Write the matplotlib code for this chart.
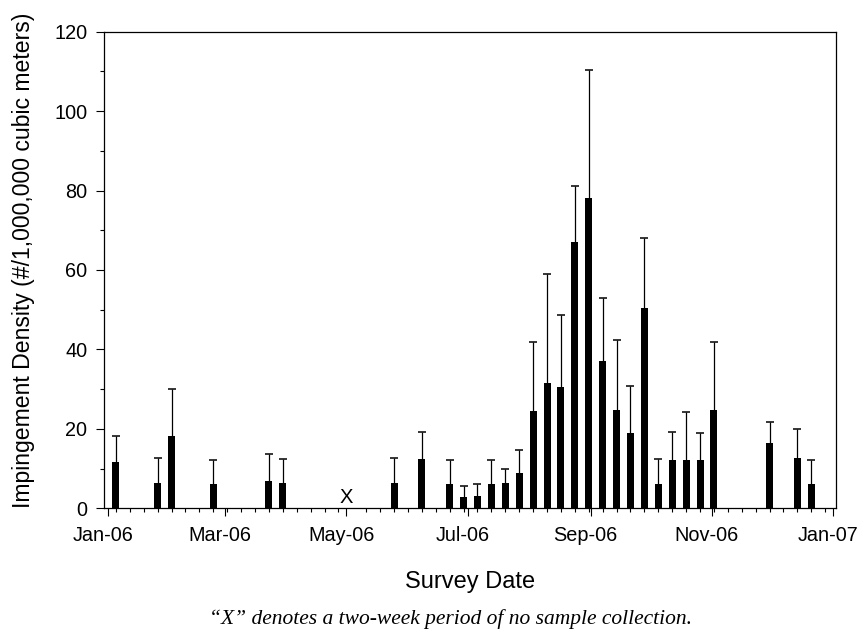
import datetime as dt
import matplotlib
matplotlib.use('Agg')
import matplotlib.pyplot as plt
import matplotlib.dates as mdates
import matplotlib.transforms as mtransforms
import pandas as pd

plt.rcParams['font.family'] = ['Liberation Sans', 'DejaVu Sans']

# survey dates with non-zero density
dates = ['2006-01-05', '2006-01-26', '2006-02-02', '2006-02-23', '2006-03-23', '2006-03-30',
         '2006-05-25', '2006-06-08', '2006-06-22', '2006-06-29', '2006-07-06', '2006-07-13',
         '2006-07-20', '2006-07-27', '2006-08-03', '2006-08-10', '2006-08-17', '2006-08-24',
         '2006-08-31', '2006-09-07', '2006-09-14', '2006-09-21', '2006-09-28', '2006-10-05',
         '2006-10-12', '2006-10-19', '2006-10-26', '2006-11-02', '2006-11-30', '2006-12-14',
         '2006-12-21']
density = [11.6, 6.3, 18.3, 6.2, 6.9, 6.3,
           6.4, 12.3, 6.1, 2.8, 3.1, 6.2,
           6.3, 8.9, 24.6, 31.5, 30.5, 67.0,
           78.2, 37.0, 24.8, 18.9, 50.4, 6.2,
           12.2, 12.2, 12.1, 24.7, 16.4, 12.7,
           6.0]
std_err = [6.7, 6.3, 11.7, 6.0, 6.8, 6.2,
           6.3, 7.0, 6.1, 2.8, 3.1, 6.0,
           3.7, 5.7, 17.3, 27.4, 18.2, 14.2,
           32.2, 15.9, 17.6, 11.9, 17.6, 6.3,
           6.9, 12.1, 6.8, 17.2, 5.3, 7.3,
           6.1]
no_sample_date = '2006-05-01'
major_labels = ['Jan-06', 'Mar-06', 'May-06', 'Jul-06', 'Sep-06', 'Nov-06', 'Jan-07']

x = mdates.date2num(pd.to_datetime(dates))
tops = [d + e for d, e in zip(density, std_err)]

fig = plt.figure(figsize=(8.62, 6.36), dpi=100)
ax = fig.add_axes([0.1206, 0.2008, 0.8492, 0.7494])

ax.bar(x, density, width=3.5, color='black', zorder=3)
# upper error bars only
ax.vlines(x, density, tops, color='black', linewidth=0.9, zorder=2)
ax.plot(x, tops, linestyle='none', marker='_', markersize=6, markeredgewidth=1.1,
        color='black', zorder=2)

# weekly sampling ticks (Thursdays), May 4 not sampled
weeks = pd.date_range('2006-01-05', '2006-12-28', freq='7D')
weeks = weeks[weeks != pd.Timestamp('2006-05-04')]
ax.set_xticks(mdates.date2num(weeks), minor=True)
majors = pd.date_range('2006-01-01', '2007-01-01', freq='2MS')
ax.set_xticks(mdates.date2num(majors))
ax.set_xticklabels(major_labels)

ax.set_xlim(mdates.date2num(dt.datetime(2005, 12, 30)),
            mdates.date2num(dt.datetime(2007, 1, 2, 10)))
ax.set_ylim(0, 120)
ax.set_yticks(range(0, 121, 20))
ax.set_yticks(range(10, 120, 20), minor=True)

ax.tick_params(which='major', direction='out', length=5.5, width=0.8, labelsize=14.3, pad=6.5)
ax.tick_params(which='minor', direction='out', length=3, width=0.8)
ax.tick_params(axis='x', which='major', pad=7.5)
for s in ax.spines.values():
    s.set_linewidth(0.9)

# date labels sit a little left of their ticks
shift = mtransforms.ScaledTranslation(-0.05, 0, fig.dpi_scale_trans)
for lab in ax.get_xticklabels():
    lab.set_transform(lab.get_transform() + shift)

ax.text(mdates.date2num(pd.Timestamp(no_sample_date)), 0.3, 'X', ha='center', va='bottom',
        fontsize=14.5)

ax.set_ylabel('Impingement Density (#/1,000,000 cubic meters)', fontsize=16.6)
ax.yaxis.set_label_coords(-0.094, 0.521)
ax.set_xlabel('Survey Date', fontsize=17, labelpad=18.5)

fig.text(0.523, 0.027, '\u201cX\u201d denotes a two-week period of no sample collection.',
         ha='center', va='center', fontsize=15.5, style='italic',
         family=['Liberation Serif', 'DejaVu Serif'])

fig.savefig('out.png', dpi=100)
